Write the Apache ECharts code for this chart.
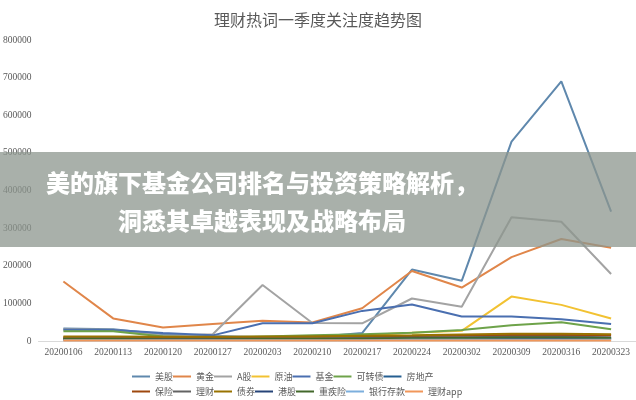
<!DOCTYPE html>
<html>
<head>
<meta charset="utf-8">
<script src="https://cdn.jsdelivr.net/npm/echarts@6/dist/echarts.min.js"></script>
<style>
html,body{margin:0;padding:0;background:#fff;}
#chart{width:636px;height:400px;}
</style>
</head>
<body>
<div id="chart"></div>
<script>
const categories = ['20200106','20200113','20200120','20200127','20200203','20200210','20200217','20200224','20200302','20200309','20200316','20200323'];
const yTicks = [0,100000,200000,300000,400000,500000,600000,700000,800000];

const meigu     = [33000, 31000, 18000, 13000, 10000, 10000, 21000, 190000, 160000, 530000, 690000, 344000];
const huangjin  = [158000, 60000, 36000, 45000, 54000, 49000, 87000, 186000, 142000, 223000, 271000, 248000];
const agu       = [31000, 30000, 14000, 18000, 149000, 48000, 47000, 113000, 91000, 329000, 317000, 178000];
const yuanyou   = [8000, 8000, 8000, 8000, 9000, 10000, 15000, 22000, 27000, 118000, 96000, 60000];
const jijin     = [30000, 29000, 21000, 15000, 47000, 47000, 80000, 97000, 65000, 65000, 58000, 45000];
const kezhuanzhai = [26000, 26000, 12000, 9000, 12000, 15000, 18000, 22000, 29000, 42000, 50000, 31000];
const fangdichan = [6000, 6000, 5000, 5000, 6000, 6000, 7000, 8000, 8000, 9000, 9000, 8000];
const baoxian   = [10000, 10000, 9000, 9000, 10000, 11000, 12000, 13000, 14000, 16000, 16000, 15000];
const licai     = [7000, 7000, 6000, 6000, 7000, 7000, 8000, 9000, 10000, 11000, 11000, 10000];
const zhaiquan  = [12000, 12000, 11000, 11000, 12000, 12000, 14000, 15000, 17000, 19000, 19000, 18000];
const ganggu    = [4000, 4000, 3000, 3000, 4000, 4000, 5000, 5000, 6000, 6000, 6000, 6000];
const zhongjixian = [5000, 5000, 4000, 4000, 5000, 5000, 6000, 7000, 8000, 9000, 9000, 8000];
const yinhangcunkuan = [2000, 2000, 2000, 2000, 2000, 2000, 2000, 3000, 3000, 3000, 3000, 3000];
const licaiapp  = [1000, 1000, 1000, 1000, 1000, 1000, 1000, 1000, 1000, 1000, 1000, 1000];

const seriesNames = ['美股','黄金','A股','原油','基金','可转债','房地产','保险','理财','债券','港股','重疾险','银行存款','理财app'];
const seriesData = [meigu, huangjin, agu, yuanyou, jijin, kezhuanzhai, fangdichan, baoxian, licai, zhaiquan, ganggu, zhongjixian, yinhangcunkuan, licaiapp];
const colors = ['#5f88ad','#e0864a','#a3a3a3','#f2c232','#4a6fb0','#6ea34a','#255e91','#9e480e','#636363','#997300','#264478','#43682b','#7cafdd','#f1975a'];

const chart = echarts.init(document.getElementById('chart'), null, {renderer:'canvas'});
const legendCommon = {
  itemWidth: 18, itemHeight: 2, icon: 'rect', itemGap: 0,
  textStyle: {fontSize: 9, color: '#595959', fontFamily: 'Noto Sans CJK SC', width: 33, overflow: 'none'}
};
const option = {
  animation: false,
  color: colors,
  title: {
    text: '理财热词一季度关注度趋势图', left: 'center', top: 7,
    textStyle: {fontSize: 16, fontWeight: 'normal', color: '#595959', fontFamily: 'Noto Sans CJK SC'}
  },
  grid: {left: 38, top: 40, width: 600, height: 301},
  legend: [
    Object.assign({data: seriesNames.slice(0,7), left: 127, top: 367}, legendCommon),
    Object.assign({data: seriesNames.slice(7), left: 127, top: 382}, legendCommon)
  ],
  xAxis: {
    type: 'category', data: categories, boundaryGap: true,
    axisLine: {lineStyle: {color: '#d9d9d9'}}, axisTick: {show: false},
    axisLabel: {color: '#595959', fontSize: 9.5, fontFamily: 'Liberation Serif', margin: 6, interval: 0}
  },
  yAxis: {
    type: 'value', min: yTicks[0], max: yTicks[yTicks.length-1], interval: 100000,
    axisLine: {show: false}, axisTick: {show: false}, splitLine: {show: false},
    axisLabel: {color: '#595959', fontSize: 9.5, fontFamily: 'Liberation Serif', margin: 7, formatter: v => String(v)}
  },
  series: seriesNames.map((n, i) => ({
    name: n, type: 'line', data: seriesData[i], symbol: 'none',
    lineStyle: {width: 2, color: colors[i]}, itemStyle: {color: colors[i]}
  })),
  graphic: [
    {type: 'rect', z: 100, shape: {x: 0, y: 152, width: 636, height: 95}, style: {fill: 'rgba(140,150,142,0.75)'}},
    {type: 'text', z: 101, x: 262, y: 183, style: {text: '美的旗下基金公司排名与投资策略解析，', fill: '#ffffff', font: '900 24px "Noto Sans CJK SC"', textAlign: 'center', textVerticalAlign: 'middle'}},
    {type: 'text', z: 101, x: 262, y: 221, style: {text: '洞悉其卓越表现及战略布局', fill: '#ffffff', font: '900 24px "Noto Sans CJK SC"', textAlign: 'center', textVerticalAlign: 'middle'}}
  ]
};
chart.setOption(option);
</script>
</body>
</html>
